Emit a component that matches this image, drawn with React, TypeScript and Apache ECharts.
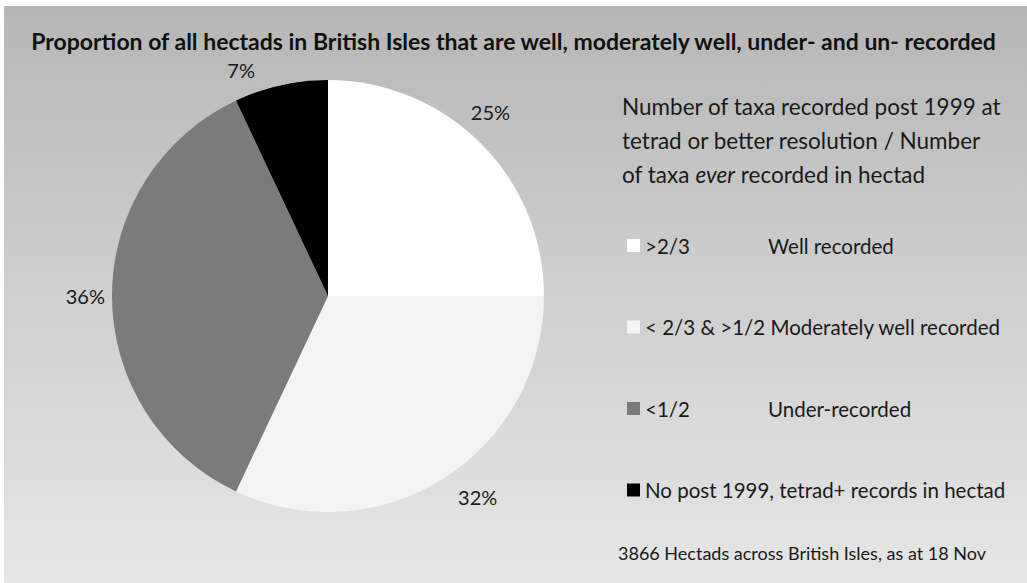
import React, { useEffect, useRef } from "react";
import * as echarts from "echarts";

const titleText =
  "Proportion of all hectads in British Isles that are well, moderately well, under- and un- recorded";
const categories = [
  "Well recorded",
  "Moderately well recorded",
  "Under-recorded",
  "No post 1999, tetrad+ records in hectad",
];
const ratioLabels = [">2/3", "< 2/3 & >1/2 ", "<1/2", ""];
const values = [25, 32, 36, 7];
const colors = ["#ffffff", "#f4f4f4", "#7b7b7b", "#000000"];
const footerText = "3866 Hectads across British Isles, as at 18 Nov";

// per-slice label placement (label line is hidden; these only move the labels)
const labelLineLength = [44, 22, 2, 15.6];
const labelLineLength2 = [-46, -2.5, 0, 17.5];

const FONT = "Lato, 'Open Sans', sans-serif";

export default function App() {
  const ref = useRef<HTMLDivElement>(null);
  useEffect(() => {
    if (!ref.current) return;
    const chart = echarts.init(ref.current, undefined, { renderer: "svg" });
    chart.setOption({
      animation: false,
      textStyle: { fontFamily: FONT },
      graphic: [
        {
          type: "rect",
          z: -100,
          silent: true,
          shape: { x: 4, y: 6, width: 1023, height: 577 },
          style: {
            fill: new echarts.graphic.LinearGradient(0, 0, 0, 1, [
              { offset: 0, color: "#b6b6b6" },
              { offset: 0.5, color: "#cfcfcf" },
              { offset: 1, color: "#e6e6e6" },
            ]),
          },
        },
        {
          type: "text",
          left: 622,
          top: 95,
          style: {
            text:
              "{n|Number of taxa recorded post 1999 at}\n{n|tetrad or better resolution / Number}\n{n|of taxa }{i|ever}{n| recorded in hectad}",
            fill: "#1a1a1a",
            rich: {
              n: { fontFamily: FONT, fontSize: 22.5, lineHeight: 34, fill: "#1a1a1a" },
              i: {
                fontFamily: FONT,
                fontSize: 22.5,
                lineHeight: 34,
                fontStyle: "italic",
                fill: "#1a1a1a",
              },
            },
          },
        },
        {
          type: "text",
          left: 618,
          top: 544,
          style: {
            text: footerText,
            fill: "#1a1a1a",
            font: `18px ${FONT}`,
          },
        },
      ],
      title: {
        text: titleText,
        left: "center",
        top: 29,
        padding: 0,
        textStyle: {
          fontFamily: FONT,
          fontWeight: "bold",
          fontSize: 23,
          color: "#111",
        },
      },
      legend: {
        orient: "vertical",
        left: 622,
        top: 230,
        itemWidth: 13,
        itemHeight: 13,
        itemGap: 60.5,
        icon: "rect",
        data: categories,
        formatter: (name: string) => {
          const i = categories.indexOf(name);
          const r = ratioLabels[i];
          if (!r) return `{c|${name}}`;
          if (i === 1) return `{b|${r}}{c|${name}}`;
          return `{a|${r}}{c|${name}}`;
        },
        textStyle: {
          fontFamily: FONT,
          fontSize: 20.5,
          color: "#1a1a1a",
          rich: {
            a: { fontFamily: FONT, fontSize: 20.5, width: 123, lineHeight: 22, color: "#1a1a1a" },
            b: { fontFamily: FONT, fontSize: 20.5, lineHeight: 22, color: "#1a1a1a" },
            c: { fontFamily: FONT, fontSize: 20.5, lineHeight: 22, color: "#1a1a1a" },
          },
        },
      },
      series: [
        {
          type: "pie",
          center: [328, 296],
          radius: 216,
          startAngle: 90,
          clockwise: true,
          avoidLabelOverlap: false,
          label: {
            show: true,
            position: "outside",
            formatter: "{c}%",
            fontFamily: FONT,
            fontSize: 20,
            color: "#1a1a1a",
            distanceToLabelLine: 5,
          },
          labelLine: { show: false, length: 10, length2: 0 },
          emphasis: { disabled: true },
          data: categories.map((name, i) => ({
            name,
            value: values[i],
            itemStyle: { color: colors[i] },
            labelLine: { show: false, length: labelLineLength[i], length2: labelLineLength2[i] },
          })),
        },
      ],
    });
    return () => chart.dispose();
  }, []);
  return (
    <div
      ref={ref}
      style={{ position: "absolute", left: 0, top: 0, width: 1027, height: 583 }}
    />
  );
}
